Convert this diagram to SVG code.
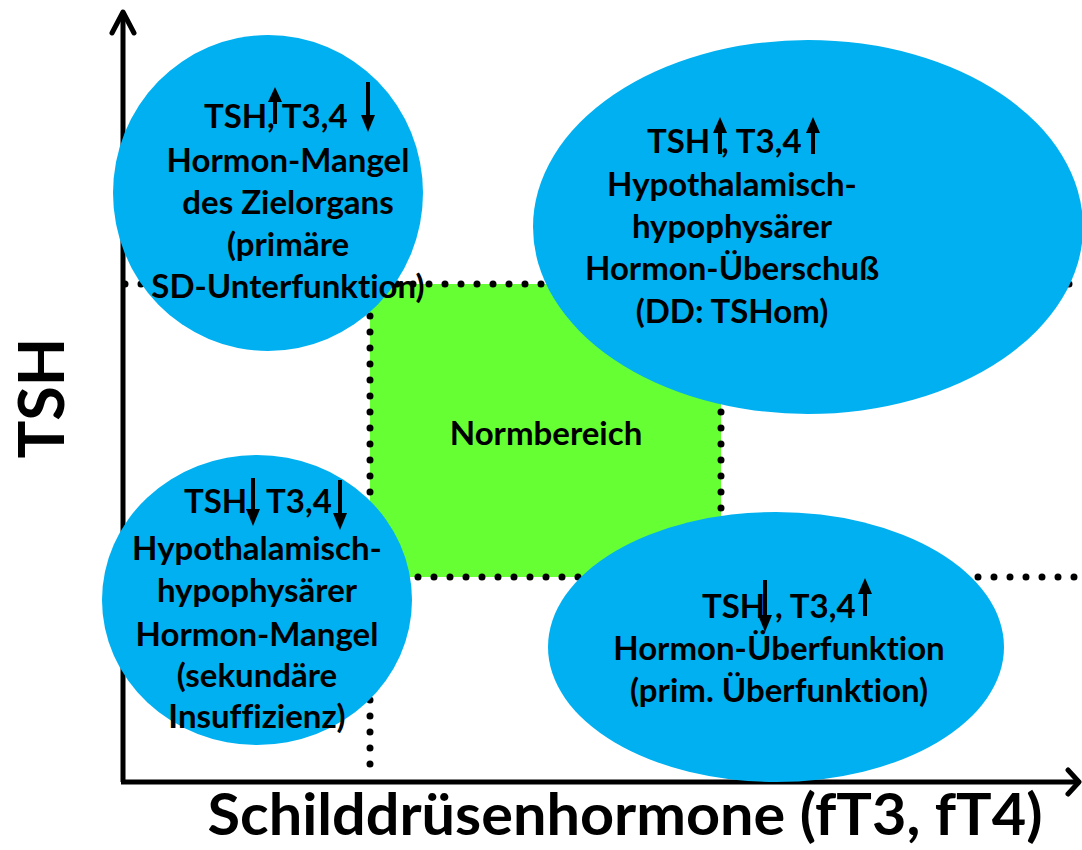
<svg xmlns="http://www.w3.org/2000/svg" width="1082" height="850" viewBox="0 0 1082 850">
<defs>
<style>
.t{font-family:Lato,"Open Sans","Liberation Sans",sans-serif;font-weight:bold;font-size:33px;fill:#000;text-anchor:middle;font-variant-ligatures:none}
.ts{text-anchor:start}
.bub{fill:#00B0F0}
.dot{stroke:#000;stroke-width:7;stroke-linecap:round;stroke-dasharray:0 16;fill:none}
.ax{stroke:#000;stroke-width:5;fill:none}
.ah{stroke:#000;stroke-width:5;fill:none;stroke-linecap:round;stroke-linejoin:round}
.ar{stroke:#000;stroke-width:4;fill:none}
.hd{fill:#000}
</style>
</defs>
<g id="normbereich">
<rect x="370" y="284" width="351" height="293" fill="#66FF33"/>
<text class="t" x="546" y="445">Normbereich</text>
</g>
<g id="connectors">
<line class="dot" x1="125" y1="284" x2="1077" y2="284"/>
<line class="dot" x1="370" y1="577" x2="1077" y2="577"/>
<line class="dot" x1="370" y1="284" x2="370" y2="780"/>
<line class="dot" x1="721" y1="284" x2="721" y2="577"/>
<line class="ax" x1="123" y1="12" x2="123" y2="782"/>
<line class="ax" x1="121" y1="782" x2="1078" y2="782"/>
<polyline class="ah" points="112,33 123,12 134,33"/>
<polyline class="ah" points="1068,770 1079,782 1068,794"/>
</g>
<g id="c1">
<ellipse class="bub" cx="268" cy="193" rx="155" ry="158"/>
<text class="t ts" x="204" y="128">TSH</text>
<text class="t ts" x="267" y="128">, T3,4</text>
<line class="ar" x1="275" y1="124" x2="275" y2="100"/><polygon class="hd" points="268,102 275,87 282,102"/>
<line class="ar" x1="368" y1="82" x2="368" y2="116"/><polygon class="hd" points="361,115 368,132 375,115"/>
<text class="t" x="288" y="172">Hormon-Mangel</text>
<text class="t" x="288" y="214">des Zielorgans</text>
<text class="t" x="288" y="256">(primäre</text>
<text class="t" x="288" y="298">SD-Unterfunktion)</text>
</g>
<g id="c2">
<ellipse class="bub" cx="808" cy="227" rx="275" ry="187"/>
<text class="t ts" x="647" y="153">TSH</text>
<text class="t ts" x="721" y="153">, T3,4</text>
<line class="ar" x1="720" y1="154" x2="720" y2="131"/><polygon class="hd" points="713,133 720,117 727,133"/>
<line class="ar" x1="813" y1="154" x2="813" y2="131"/><polygon class="hd" points="806,133 813,117 820,133"/>
<text class="t" x="732" y="196">Hypothalamisch-</text>
<text class="t" x="732" y="238">hypophysärer</text>
<text class="t" x="732" y="280">Hormon-Überschuß</text>
<text class="t" x="732" y="323">(DD: TSHom)</text>
</g>
<g id="c3">
<ellipse class="bub" cx="257" cy="600" rx="155" ry="145"/>
<text class="t ts" x="184" y="513">TSH</text>
<text class="t ts" x="266" y="513">T3,4</text>
<line class="ar" x1="253" y1="478" x2="253" y2="510"/><polygon class="hd" points="246,509 253,526 260,509"/>
<line class="ar" x1="340" y1="480" x2="340" y2="514"/><polygon class="hd" points="333,513 340,530 347,513"/>
<text class="t" x="257" y="560">Hypothalamisch-</text>
<text class="t" x="257" y="602">hypophysärer</text>
<text class="t" x="257" y="646">Hormon-Mangel</text>
<text class="t" x="257" y="687">(sekundäre</text>
<text class="t" x="257" y="728">Insuffizienz)</text>
</g>
<g id="c4">
<ellipse class="bub" cx="776" cy="647" rx="228" ry="135"/>
<text class="t ts" x="702" y="618">TSH</text>
<text class="t ts" x="775" y="618">, T3,4</text>
<line class="ar" x1="765" y1="580" x2="765" y2="616"/><polygon class="hd" points="758,615 765,632 772,615"/>
<line class="ar" x1="865" y1="616" x2="865" y2="593"/><polygon class="hd" points="858,594 865,578 872,594"/>
<text class="t" x="779" y="660">Hormon-Überfunktion</text>
<text class="t" x="779" y="702">(prim. Überfunktion)</text>
</g>
<g id="labels">
<text class="t" x="0" y="0" transform="translate(64,398) rotate(-90)" style="font-size:63px">TSH</text>
<text class="t" x="625" y="835" style="font-size:58px" textLength="835" lengthAdjust="spacingAndGlyphs">Schilddrüsenhormone (fT3, fT4)</text>
</g>
</svg>
